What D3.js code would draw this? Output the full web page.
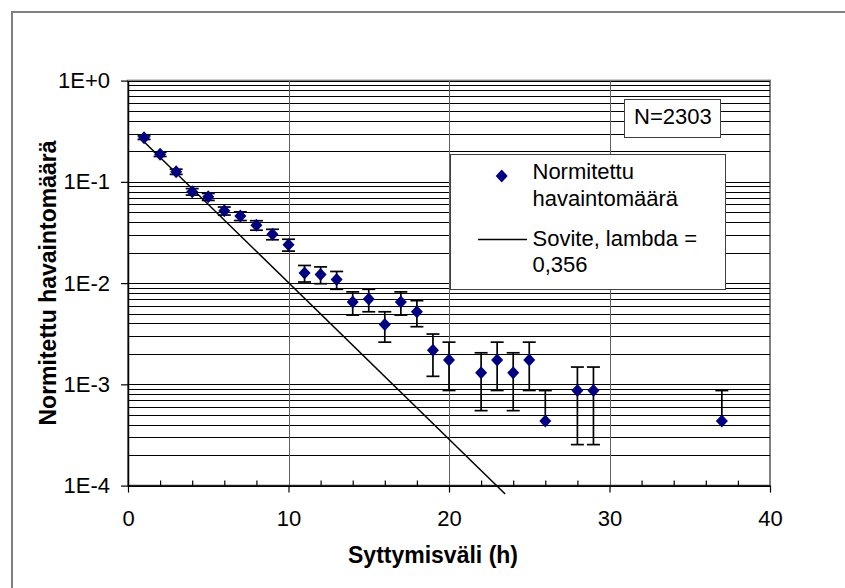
<!DOCTYPE html>
<html>
<head>
<meta charset="utf-8">
<script src="https://cdn.jsdelivr.net/npm/d3@7"></script>
<style>
  body { margin: 0; background: #fff; }
  text { font-family: "Liberation Sans", Arial, sans-serif; }
</style>
</head>
<body>
<div id="chart"></div>
<script>
const width = 845;
const height = 588;

// observations: interval (h), normalised count, error (+/-)
const hours = [1, 2, 3, 4, 5, 6, 7, 8, 9, 10, 11, 12, 13, 14, 15, 16, 17, 18, 19, 20, 22, 23, 24, 25, 26, 28, 29, 37];
const normCount = [0.2731, 0.1871, 0.1259, 0.0799, 0.0712, 0.0517, 0.0460, 0.0373, 0.0304, 0.0239,
  0.01259, 0.01216, 0.01086, 0.00651, 0.00695, 0.00391, 0.00651, 0.00521, 0.00217, 0.00174,
  0.00130, 0.00174, 0.00130, 0.00174, 0.000434, 0.000868, 0.000868, 0.000434];
const errCount = [0.0109, 0.0090, 0.0074, 0.0059, 0.0056, 0.0047, 0.0045, 0.0040, 0.0036, 0.0032,
  0.00234, 0.00230, 0.00217, 0.00168, 0.00174, 0.00130, 0.00168, 0.00150, 0.00097, 0.00087,
  0.00075, 0.00087, 0.00075, 0.00087, 0.000434, 0.000614, 0.000614, 0.000434];

// fitted exponential, straight on log axis: end points
const fitHours = [1, 23.5];
const fitValues = [0.249, 0.0000827];

const xTicks = [0, 10, 20, 30, 40];
const xMinorTicks = [2, 4, 6, 8, 12, 14, 16, 18, 22, 24, 26, 28, 32, 34, 36, 38];
const yTicks = [1e-4, 1e-3, 1e-2, 1e-1, 1];
const yTickLabels = ["1E-4", "1E-3", "1E-2", "1E-1", "1E+0"];

const legendLabels = [["Normitettu", "havaintomäärä"], ["Sovite, lambda =", "0,356"]];
const nLabel = "N=2303";

const plot = { left: 128, right: 770, top: 80.6, bottom: 485.6 };

const x = d3.scaleLinear().domain([0, 40]).range([plot.left, plot.right]);
const y = d3.scaleLog().domain([1e-4, 1]).range([plot.bottom, plot.top]);

const svg = d3
  .select("#chart")
  .append("svg")
  .attr("width", width)
  .attr("height", height);

// outer frame
svg.append("rect")
  .attr("x", 12).attr("y", 12)
  .attr("width", 900).attr("height", 700)
  .attr("fill", "none")
  .attr("stroke", "#808080")
  .attr("stroke-width", 2);

// plot area border
svg.append("rect")
  .attr("x", plot.left).attr("y", plot.top)
  .attr("width", plot.right - plot.left)
  .attr("height", plot.bottom - plot.top)
  .attr("fill", "#fff")
  .attr("stroke", "#808080")
  .attr("stroke-width", 2);

// horizontal gridlines (major + minor)
svg.append("g")
  .selectAll("line")
  .data(y.ticks())
  .join("line")
  .attr("x1", plot.left).attr("x2", plot.right)
  .attr("y1", (d) => Math.round(y(d)) + 0.5)
  .attr("y2", (d) => Math.round(y(d)) + 0.5)
  .attr("stroke", "#000")
  .attr("stroke-width", 1);

// vertical gridlines
svg.append("g")
  .selectAll("line")
  .data(xTicks.slice(1, -1))
  .join("line")
  .attr("x1", (d) => Math.round(x(d)) + 0.5)
  .attr("x2", (d) => Math.round(x(d)) + 0.5)
  .attr("y1", plot.top).attr("y2", plot.bottom)
  .attr("stroke", "#606060")
  .attr("stroke-width", 1);

// axes
const xAxis = svg.append("g")
  .attr("transform", `translate(0,${plot.bottom})`)
  .call(d3.axisBottom(x).tickValues(xTicks).tickSize(7).tickSizeOuter(0).tickPadding(18));

svg.append("g")
  .attr("transform", `translate(0,${plot.bottom})`)
  .call(d3.axisBottom(x).tickValues(xMinorTicks).tickSize(-5).tickSizeOuter(0).tickFormat(""))
  .call((g) => g.select(".domain").remove());

const yAxis = svg.append("g")
  .attr("transform", `translate(${plot.left},0)`)
  .call(d3.axisLeft(y).tickValues(yTicks).tickFormat((d, i) => yTickLabels[i])
    .tickSize(7).tickSizeOuter(0).tickPadding(11));

svg.selectAll(".tick text")
  .attr("font-family", "Liberation Sans, Arial, sans-serif")
  .attr("font-size", 22)
  .attr("fill", "#000");
svg.selectAll(".domain").attr("stroke", "#000").attr("stroke-width", 1.5);
svg.selectAll(".tick line").attr("stroke", "#000").attr("stroke-width", 1.2);

// fitted line
svg.append("path")
  .datum(fitHours.map((h, i) => [h, fitValues[i]]))
  .attr("d", d3.line().x((d) => x(d[0])).y((d) => y(d[1])))
  .attr("fill", "none")
  .attr("stroke", "#000")
  .attr("stroke-width", 1.5);

// error bars
const points = hours.map((h, i) => ({ h: h, v: normCount[i], e: errCount[i] }));
const capW = 6.5;
const eb = svg.append("g").attr("stroke", "#000").attr("stroke-width", 1.7);

points.forEach((p) => {
  const lo = p.v - p.e;
  const yHi = y(p.v + p.e);
  const yLo = lo > 0 ? y(lo) : y(p.v);
  const cx = x(p.h);
  eb.append("line").attr("x1", cx).attr("x2", cx).attr("y1", yHi).attr("y2", yLo);
  eb.append("line").attr("x1", cx - capW).attr("x2", cx + capW).attr("y1", yHi).attr("y2", yHi);
  if (lo > 0) {
    eb.append("line").attr("x1", cx - capW).attr("x2", cx + capW).attr("y1", yLo).attr("y2", yLo);
  }
});

// diamond markers
function diamond(cx, cy) {
  return `M${cx},${cy - 6.5}L${cx + 6},${cy}L${cx},${cy + 6.5}L${cx - 6},${cy}Z`;
}

svg.append("g")
  .selectAll("path")
  .data(points)
  .join("path")
  .attr("d", (d) => diamond(x(d.h), y(d.v)))
  .attr("fill", "#000080");

// N box
svg.append("rect")
  .attr("x", 624.5).attr("y", 99.5)
  .attr("width", 96).attr("height", 38)
  .attr("fill", "#fff")
  .attr("stroke", "#404040")
  .attr("stroke-width", 1);

svg.append("text")
  .attr("x", 634).attr("y", 123.5)
  .attr("font-size", 22)
  .text(nLabel);

// legend
const legend = svg.append("g");
legend.append("rect")
  .attr("x", 450.5).attr("y", 154.5)
  .attr("width", 275).attr("height", 135)
  .attr("fill", "#fff")
  .attr("stroke", "#404040")
  .attr("stroke-width", 1);

legend.append("path")
  .attr("d", diamond(501.7, 176))
  .attr("fill", "#000080");

legend.append("line")
  .attr("x1", 478).attr("x2", 527)
  .attr("y1", 239.5).attr("y2", 239.5)
  .attr("stroke", "#000")
  .attr("stroke-width", 1.5);

const legendBaselines = [[179, 206], [245.7, 272]];
legendLabels.forEach((lines, i) => {
  lines.forEach((t, j) => {
    legend.append("text")
      .attr("x", 532.5)
      .attr("y", legendBaselines[i][j])
      .attr("font-size", 22)
      .text(t);
  });
});

// axis titles
svg.append("text")
  .attr("x", 433).attr("y", 563)
  .attr("text-anchor", "middle")
  .attr("font-size", 23)
  .attr("font-weight", "bold")
  .text("Syttymisväli (h)");

svg.append("text")
  .attr("transform", `translate(56,283) rotate(-90)`)
  .attr("text-anchor", "middle")
  .attr("font-size", 23)
  .attr("font-weight", "bold")
  .text("Normitettu havaintomäärä");
</script>
</body>
</html>
